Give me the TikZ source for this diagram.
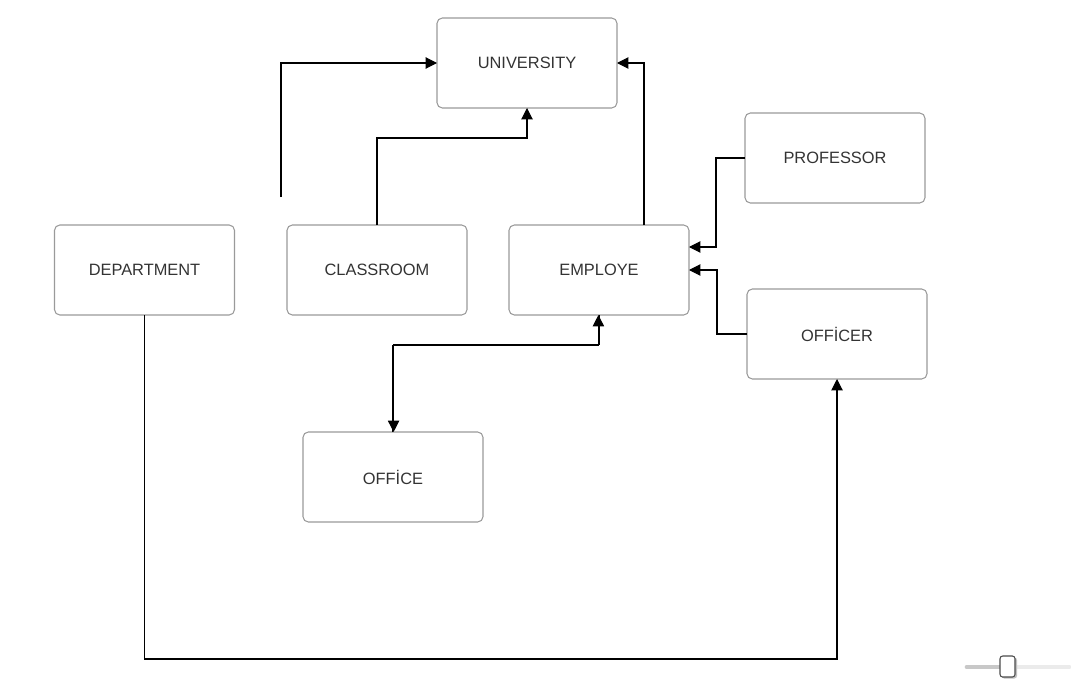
\documentclass[tikz,border=0pt]{standalone}
\usepackage{fontspec}
\setmainfont{Liberation Sans}
\usetikzlibrary{arrows.meta,calc,shadows}
\definecolor{boxline}{HTML}{9A9A9A}
\definecolor{txt}{HTML}{333333}
\tikzset{
  ent/.style={draw=boxline, line width=0.8pt, rounded corners=4pt, minimum width=135pt, minimum height=67.5pt, inner sep=0pt, outer sep=0pt, text=txt, font=\fontsize{12.3}{14}\selectfont},
  conn/.style={draw=black, line width=0.8pt, -{Triangle[length=8.5pt,width=8.5pt]}},
}
\begin{document}
\begin{tikzpicture}[x=0.75pt,y=-0.75pt]
\useasboundingbox (0,0) rectangle (1071,692);
\node[ent] (uni)  at (527,63)   {UNIVERSITY};
\node[ent] (prof) at (835,158)  {PROFESSOR};
\node[ent] (dep)  at (144.5,270) {DEPARTMENT};
\node[ent] (cls)  at (377,270)  {CLASSROOM};
\node[ent] (emp)  at (599,270)  {EMPLOYE};
\node[ent] (offr) at (837,334)  {OFFİCER};
\node[ent] (ofc)  at (393,477)  {OFFİCE};
\coordinate (dang) at (281,197);
% connectors
\draw[conn] (dang) |- (uni.west);
\draw[conn] (cls.north) -- ++(0,-87) -| (uni.south);
\draw[conn] ($(emp.north)+(45,0)$) |- (uni.east);
\draw[conn] (prof.west) -- ++(-29,0) |- ($(emp.east)+(0,-23)$);
\draw[conn] (offr.west) -- ++(-30,0) |- (emp.east);
\draw[conn] ($(emp.south)+(0.6,0)$) -- ++(0,29.5) -| ($(ofc.north)+(0.6,0)$);
\draw[conn] ($(ofc.north)+(-0.6,0)$) |- ($(emp.south)+(-0.6,30.7)$) -- ($(emp.south)+(-0.6,0)$);
\draw[conn] (dep.south) -- ++(0,344) -| (offr.south);
% zoom slider
\draw[line width=3.5pt, line cap=round, draw={rgb,255:red,235;green,235;blue,235}] (967,667) -- (1069,667);
\draw[line width=3.5pt, line cap=round, draw={rgb,255:red,200;green,200;blue,200}] (967,667) -- (1003,667);
\fill[black!25, rounded corners=2pt] (1001.5,657.5) rectangle (1017,678.5);
\draw[fill=white, draw=black!70, line width=0.8pt, rounded corners=2pt] (1000,656) rectangle (1015,677);
\end{tikzpicture}
\end{document}
